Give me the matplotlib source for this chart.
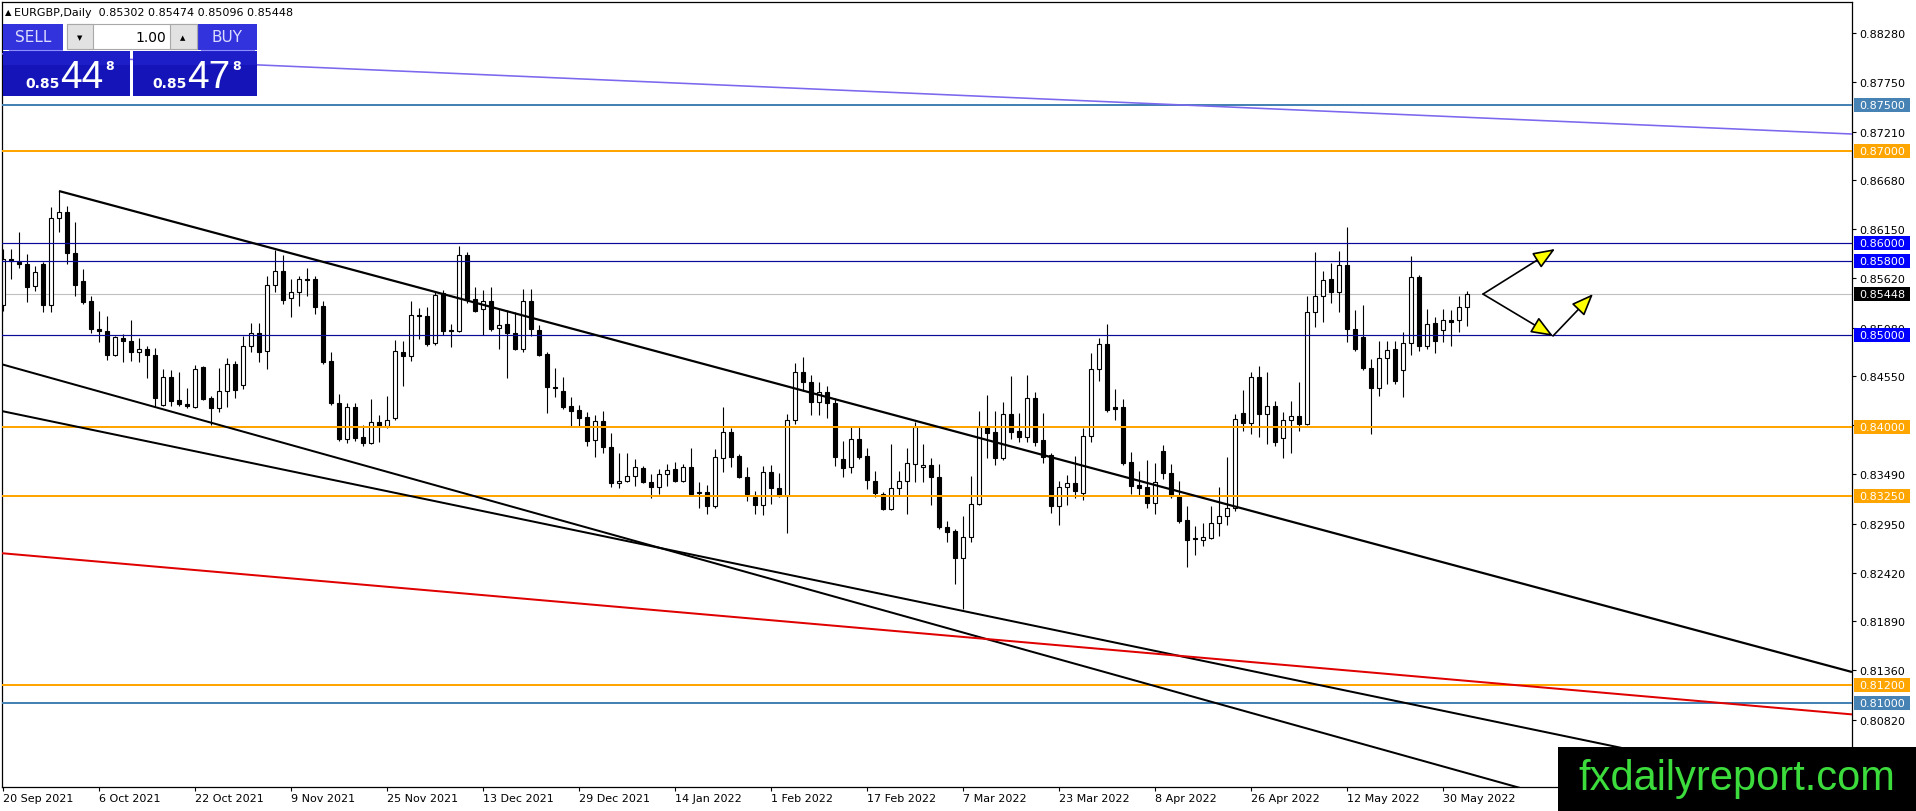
import matplotlib
matplotlib.use("Agg")
import matplotlib.pyplot as plt
from matplotlib.patches import Rectangle
import numpy as np
import pandas as pd

# EURGBP daily candles, 20 Sep 2021 .. 2 Jun 2022
opens = [0.85326, 0.85825, 0.85793, 0.85771, 0.85532, 0.85771, 0.85326, 0.86271, 0.86336, 0.85891,
         0.85586, 0.85369, 0.85065, 0.85043, 0.84783, 0.84967, 0.84935, 0.84815, 0.84848, 0.84783,
         0.84240, 0.84544, 0.84294, 0.84251, 0.84218, 0.84652, 0.84316, 0.84207, 0.84392, 0.84685,
         0.84457, 0.84881, 0.85022, 0.84826, 0.85543, 0.85695, 0.85402, 0.85467, 0.85608, 0.85608,
         0.85315, 0.84718, 0.84262, 0.83871, 0.84218, 0.83892, 0.83827, 0.84055, 0.84012, 0.84099,
         0.84815, 0.84772, 0.85217, 0.85206, 0.84913, 0.85456, 0.85054, 0.85043, 0.85869, 0.85391,
         0.85282, 0.85369, 0.85076, 0.85119, 0.85022, 0.84848, 0.85369, 0.85054, 0.84794, 0.84435,
         0.84392, 0.84229, 0.84185, 0.84109, 0.83860, 0.84066, 0.83784, 0.83393, 0.83414, 0.83469,
         0.83556, 0.83404, 0.83349, 0.83490, 0.83545, 0.83414, 0.83566, 0.83284, 0.83295, 0.83143,
         0.83664, 0.83947, 0.83686, 0.83458, 0.83241, 0.83154, 0.83512, 0.83338, 0.83252, 0.84077,
         0.84598, 0.84490, 0.84272, 0.84381, 0.84262, 0.83653, 0.83566, 0.83871, 0.83686, 0.83414,
         0.83273, 0.83110, 0.83338, 0.83414, 0.83599, 0.83566, 0.83588, 0.83458, 0.82915, 0.82871,
         0.82578, 0.82806, 0.83165, 0.84001, 0.83947, 0.83664, 0.84142, 0.83957, 0.83892, 0.84316,
         0.83860, 0.83697, 0.83143, 0.83349, 0.83393, 0.83284, 0.83903, 0.84631, 0.84902, 0.84218,
         0.84218, 0.83621, 0.83371, 0.83349, 0.83176, 0.83740, 0.83501, 0.83252, 0.82991, 0.82795,
         0.82774, 0.82795, 0.82958, 0.83034, 0.83121, 0.84153, 0.84044, 0.84544, 0.84142, 0.84229,
         0.83881, 0.84077, 0.84120, 0.84033, 0.85250, 0.85424, 0.85608, 0.85467, 0.85760, 0.85065,
         0.84978, 0.84642, 0.84424, 0.84750, 0.84848, 0.84620, 0.84913, 0.85630, 0.84881, 0.85130,
         0.85054, 0.85163, 0.85163, 0.85302]
highs = [0.85934, 0.85934, 0.86119, 0.85880, 0.85749, 0.85793, 0.86390, 0.86564, 0.86401, 0.86227,
         0.85717, 0.85424, 0.85261, 0.85206, 0.84989, 0.85011, 0.85163, 0.84967, 0.84881, 0.84859,
         0.84631, 0.84620, 0.84598, 0.84424, 0.84674, 0.84663, 0.84338, 0.84642, 0.84750, 0.84718,
         0.84989, 0.85130, 0.85130, 0.85641, 0.85923, 0.85869, 0.85608, 0.85641, 0.85728, 0.85641,
         0.85369, 0.84815, 0.84359, 0.84262, 0.84262, 0.84023, 0.84305, 0.84131, 0.84338, 0.84946,
         0.84935, 0.85369, 0.85293, 0.85304, 0.85478, 0.85489, 0.85119, 0.85967, 0.85901, 0.85521,
         0.85489, 0.85521, 0.85282, 0.85272, 0.85250, 0.85500, 0.85500, 0.85109, 0.84815, 0.84642,
         0.84544, 0.84327, 0.84240, 0.84164, 0.84131, 0.84175, 0.83936, 0.83719, 0.83719, 0.83653,
         0.83577, 0.83490, 0.83545, 0.83599, 0.83621, 0.83599, 0.83773, 0.83404, 0.83371, 0.83762,
         0.84218, 0.83990, 0.83708, 0.83566, 0.83306, 0.83577, 0.83588, 0.83501, 0.84142, 0.84696,
         0.84761, 0.84566, 0.84490, 0.84446, 0.84316, 0.83849, 0.84001, 0.84012, 0.83773, 0.83523,
         0.83295, 0.83816, 0.83523, 0.83773, 0.84055, 0.83816, 0.83664, 0.83599, 0.82980, 0.82893,
         0.83034, 0.83469, 0.84175, 0.84348, 0.84175, 0.84272, 0.84555, 0.84153, 0.84566, 0.84381,
         0.84153, 0.83719, 0.83414, 0.83480, 0.83686, 0.83990, 0.84805, 0.84967, 0.85119, 0.84414,
         0.84305, 0.83729, 0.83523, 0.83642, 0.83610, 0.83805, 0.83599, 0.83414, 0.83143, 0.82926,
         0.82958, 0.83143, 0.83349, 0.83675, 0.84142, 0.84403, 0.84598, 0.84663, 0.84598, 0.84283,
         0.84164, 0.84283, 0.84490, 0.85424, 0.85901, 0.85695, 0.85782, 0.85912, 0.86173, 0.85272,
         0.85326, 0.84739, 0.84935, 0.84935, 0.84935, 0.85033, 0.85858, 0.85652, 0.85282, 0.85195,
         0.85282, 0.85272, 0.85424, 0.85474]
lows = [0.85261, 0.85608, 0.85728, 0.85358, 0.85478, 0.85250, 0.85250, 0.86119, 0.85771, 0.85424,
        0.85337, 0.85022, 0.84924, 0.84728, 0.84772, 0.84707, 0.84718, 0.84707, 0.84533, 0.84218,
        0.84229, 0.84229, 0.84229, 0.84207, 0.84207, 0.84294, 0.84023, 0.84164, 0.84218, 0.84316,
        0.84414, 0.84815, 0.84707, 0.84631, 0.85467, 0.85337, 0.85195, 0.85315, 0.85424, 0.85228,
        0.84685, 0.84240, 0.83849, 0.83827, 0.83849, 0.83795, 0.83816, 0.83838, 0.83990, 0.84077,
        0.84446, 0.84718, 0.84957, 0.84881, 0.84891, 0.85000, 0.84870, 0.85033, 0.85348, 0.85250,
        0.85000, 0.85043, 0.84848, 0.84533, 0.84837, 0.84815, 0.84989, 0.84772, 0.84153, 0.84327,
        0.84196, 0.84012, 0.84012, 0.83795, 0.83675, 0.83719, 0.83349, 0.83338, 0.83404, 0.83360,
        0.83393, 0.83230, 0.83273, 0.83360, 0.83404, 0.83404, 0.83262, 0.83121, 0.83056, 0.83121,
        0.83512, 0.83566, 0.83447, 0.83197, 0.83056, 0.83045, 0.83165, 0.83241, 0.82850, 0.84033,
        0.84392, 0.84131, 0.84131, 0.84099, 0.83577, 0.83458, 0.83501, 0.83653, 0.83328, 0.83241,
        0.83099, 0.83099, 0.83262, 0.83056, 0.83404, 0.83404, 0.83154, 0.82893, 0.82752, 0.82296,
        0.82024, 0.82752, 0.83154, 0.83664, 0.83588, 0.83642, 0.83871, 0.83838, 0.83838, 0.83795,
        0.83610, 0.83067, 0.82937, 0.83154, 0.83230, 0.83208, 0.83838, 0.84500, 0.84164, 0.84077,
        0.83588, 0.83273, 0.83252, 0.83121, 0.83056, 0.83436, 0.83230, 0.82958, 0.82480, 0.82611,
        0.82709, 0.82785, 0.82817, 0.82937, 0.83089, 0.83957, 0.83925, 0.83892, 0.83816, 0.83795,
        0.83664, 0.83719, 0.83957, 0.84023, 0.85087, 0.85141, 0.85348, 0.85250, 0.84924, 0.84826,
        0.84620, 0.83925, 0.84338, 0.84468, 0.84468, 0.84327, 0.84783, 0.84826, 0.84848, 0.84805,
        0.84924, 0.84881, 0.85033, 0.85096]
closes = [0.85825, 0.85804, 0.85771, 0.85521, 0.85684, 0.85326, 0.86271, 0.86336, 0.85891, 0.85543,
          0.85358, 0.85065, 0.85043, 0.84783, 0.84978, 0.84935, 0.84815, 0.84848, 0.84783, 0.84316,
          0.84544, 0.84283, 0.84251, 0.84229, 0.84631, 0.84305, 0.84207, 0.84392, 0.84685, 0.84403,
          0.84881, 0.85022, 0.84815, 0.85543, 0.85695, 0.85380, 0.85467, 0.85608, 0.85597, 0.85304,
          0.84707, 0.84262, 0.83871, 0.84218, 0.83881, 0.83827, 0.84055, 0.84012, 0.84077, 0.84826,
          0.84772, 0.85217, 0.85206, 0.84902, 0.85434, 0.85043, 0.85043, 0.85869, 0.85391, 0.85261,
          0.85369, 0.85065, 0.85109, 0.85022, 0.84848, 0.85369, 0.85065, 0.84783, 0.84435, 0.84424,
          0.84218, 0.84175, 0.84099, 0.83849, 0.84066, 0.83784, 0.83393, 0.83414, 0.83469, 0.83566,
          0.83404, 0.83349, 0.83490, 0.83534, 0.83414, 0.83566, 0.83273, 0.83295, 0.83143, 0.83675,
          0.83947, 0.83675, 0.83458, 0.83273, 0.83154, 0.83512, 0.83338, 0.83252, 0.84077, 0.84598,
          0.84490, 0.84272, 0.84381, 0.84262, 0.83675, 0.83556, 0.83871, 0.83675, 0.83425, 0.83284,
          0.83110, 0.83338, 0.83414, 0.83610, 0.84001, 0.83588, 0.83458, 0.82915, 0.82861, 0.82578,
          0.82806, 0.83165, 0.84001, 0.83936, 0.83664, 0.84142, 0.83947, 0.83892, 0.84316, 0.83838,
          0.83675, 0.83143, 0.83349, 0.83393, 0.83306, 0.83903, 0.84631, 0.84902, 0.84185, 0.84196,
          0.83610, 0.83360, 0.83338, 0.83176, 0.83404, 0.83501, 0.83252, 0.82980, 0.82774, 0.82785,
          0.82806, 0.82958, 0.83034, 0.83121, 0.84088, 0.84044, 0.84544, 0.84142, 0.84229, 0.83838,
          0.84077, 0.84120, 0.84033, 0.85250, 0.85424, 0.85597, 0.85467, 0.85760, 0.85065, 0.84848,
          0.84642, 0.84424, 0.84750, 0.84837, 0.84500, 0.84913, 0.85630, 0.84881, 0.85119, 0.84935,
          0.85163, 0.85141, 0.85304, 0.85448]

dates = pd.bdate_range("2021-09-20", periods=len(opens))

# horizontal levels
level_prices = [0.87500, 0.87000, 0.86000, 0.85800, 0.85000, 0.84000, 0.83250, 0.81200, 0.81000]
level_colors = ["#4682b4", "#ffa500", "#0a0a9a", "#0a0a9a", "#0a0a9a", "#ffa500", "#ffa500", "#ffa500", "#4682b4"]
level_label_bg = ["#4682b4", "#ffa500", "#0000ff", "#0000ff", "#0000ff", "#ffa500", "#ffa500", "#ffa500", "#4682b4"]
level_widths = [2, 2, 1.2, 1.2, 1.2, 2, 2, 2, 2]
last_price = 0.85448

# trendlines: two anchor points (bar index, price) each, extended as rays
trend_anchors = [
    [(7, 0.86564), (231.125, 0.81341)],   # channel top
    [(0, 0.84679), (183, 0.80243)],       # steep lower line
    [(0, 0.84172), (183, 0.80866)],       # flatter lower line
    [(0, 0.82630), (183, 0.81245)],       # red line
    [(32, 0.87933), (231.125, 0.87183)],  # long purple line
]
trend_colors = ["black", "black", "black", "#e00000", "#7b68ee"]
trend_widths = [2.2, 2, 2, 2, 1.6]
trend_from_anchor = [True, False, False, False, False]

# projection arrows
arrow_starts = [(185, 0.85445), (185, 0.85445), (193.75, 0.84990)]
arrow_ends = [(194, 0.85935), (193.75, 0.84990), (198.75, 0.85445)]

yticks = [0.88280, 0.87750, 0.87210, 0.86680, 0.86150, 0.85620, 0.85080, 0.84550,
          0.84020, 0.83490, 0.82950, 0.82420, 0.81890, 0.81360, 0.80820]

W, H = 1916, 812
fig = plt.figure(figsize=(W / 100, H / 100), dpi=100)
ax = fig.add_axes([2 / W, 24 / H, 1850 / W, 785 / H])
XMIN, XMAX = -0.125, 231.125
YMIN, YMAX = 0.800924, 0.886166
ax.set_xlim(XMIN, XMAX)
ax.set_ylim(YMIN, YMAX)

o, h, l, c = map(np.array, (opens, highs, lows, closes))
x = np.arange(len(o))
up = c >= o
ax.vlines(x, l, h, color="black", lw=0.8, zorder=2)
body_lo = np.minimum(o, c)
body_h = np.maximum(np.abs(c - o), 0.00002)
ax.bar(x, body_h, bottom=body_lo, width=0.5, color=np.where(up, "white", "black"),
       edgecolor="black", linewidth=0.8, zorder=2.1)

# levels
for p, col, lw in zip(level_prices, level_colors, level_widths):
    ax.axhline(p, color=col, lw=lw * 0.72, zorder=3)
ax.axhline(last_price, color="#c0c0c0", lw=0.8, zorder=1.5)

# trendlines
for anchors, col, lw, from_anchor in zip(trend_anchors, trend_colors, trend_widths, trend_from_anchor):
    (x0, y0), (x1, y1) = anchors
    slope = (y1 - y0) / (x1 - x0)
    xa = x0 if from_anchor else XMIN
    xs = np.array([xa, XMAX])
    ax.plot(xs, y0 + slope * (xs - x0), color=col, lw=lw * 0.72, zorder=3.5,
            solid_capstyle="butt")

for (sx, sy), (ex, ey) in zip(arrow_starts, arrow_ends):
    ax.annotate("", xy=(ex, ey), xytext=(sx, sy),
                arrowprops=dict(arrowstyle="-|>,head_length=0.75,head_width=0.3",
                                fc="yellow", ec="black", lw=1.2, mutation_scale=18,
                                shrinkA=0, shrinkB=0), zorder=4)

# axes styling
for sp in ax.spines.values():
    sp.set_color("black")
    sp.set_linewidth(0.9)
ax.yaxis.tick_right()
ax.set_yticks(yticks)
ax.set_yticklabels([f"{v:.5f}" for v in yticks])
ax.tick_params(axis="y", length=3, width=0.8, pad=2, labelsize=8, colors="black")

tick_idx = list(range(0, len(dates), 12))
ax.set_xticks(tick_idx)
ax.set_xticklabels([f"{dates[i].day} {dates[i]:%b %Y}" for i in tick_idx])
ax.tick_params(axis="x", length=3, width=0.8, pad=1, labelsize=8)
for lbl in ax.get_xticklabels():
    lbl.set_horizontalalignment("left")

# price labels on the right axis
ytr = ax.get_yaxis_transform()
box_h = 14 / 9209
x_box = (1854 - 2) / 1850
w_box = 56 / 1850
for p, bg in zip(level_prices + [last_price], level_label_bg + ["black"]):
    ax.add_patch(Rectangle((x_box, p - box_h / 2), w_box, box_h, transform=ytr,
                           facecolor=bg, edgecolor="none", clip_on=False, zorder=6))
    ax.text(x_box + w_box / 2, p, f"{p:.5f}", transform=ytr, color="white", fontsize=8,
            ha="center", va="center", clip_on=False, zorder=7)

# overlay for terminal widgets
ov = fig.add_axes([0, 0, 1, 1])
ov.set_xlim(0, W)
ov.set_ylim(H, 0)
ov.axis("off")
ov.set_zorder(10)

ov.text(5, 13, "\u25b2", fontsize=6, va="center", ha="left")
ov.text(14, 13, "EURGBP,Daily  0.85302 0.85474 0.85096 0.85448", fontsize=8, va="center", ha="left")

blue_head = "#3333dd"
blue_box = "#1414b8"
ov.add_patch(Rectangle((3, 25), 60, 26, facecolor=blue_head, edgecolor="none"))
ov.add_patch(Rectangle((198, 25), 59, 26, facecolor=blue_head, edgecolor="none"))
ov.plot([9, 62], [51, 51], color="#8c8cff", lw=0.8)
ov.plot([201, 254], [51, 51], color="#8c8cff", lw=0.8)
ov.text(33, 38, "SELL", color="#dcdcff", fontsize=11, ha="center", va="center")
ov.text(227, 38, "BUY", color="#dcdcff", fontsize=11, ha="center", va="center")
ov.add_patch(Rectangle((67, 25), 130, 25, facecolor="white", edgecolor="#a8a8a8", lw=0.8))
ov.add_patch(Rectangle((67, 25), 26, 25, facecolor="#e2e2e2", edgecolor="#a8a8a8", lw=0.8))
ov.add_patch(Rectangle((170, 25), 27, 25, facecolor="#e2e2e2", edgecolor="#a8a8a8", lw=0.8))
ov.text(80, 38, "\u25bc", fontsize=5, ha="center", va="center")
ov.text(183, 38, "\u25b2", fontsize=5, ha="center", va="center")
ov.text(166, 38, "1.00", fontsize=10, ha="right", va="center")

for bx, bw, big, dx in [(3, 127, "44", 0), (133, 124, "47", 127)]:
    ov.add_patch(Rectangle((bx, 52), bw, 45, facecolor=blue_box, edgecolor="none"))
    ov.add_patch(Rectangle((bx, 52), bw, 14, facecolor="#1e1ec8", edgecolor="none"))
    ov.text(25 + dx, 88, "0.85", color="white", fontsize=10, fontweight="bold", ha="left",
            va="baseline")
    ov.text(60 + dx, 88, big, color="white", fontsize=28, family="Liberation Sans",
            ha="left", va="baseline")
    ov.text(105 + dx, 70, "8", color="white", fontsize=9, fontweight="bold", ha="left",
            va="baseline")

# watermark
ov.add_patch(Rectangle((1558, 748), 358, 64, facecolor="black", edgecolor="none"))
ov.text(1737, 779, "fxdailyreport.com", color="#3cdc3c", fontsize=30,
        family="Liberation Sans", ha="center", va="center")

fig.savefig("out.png", dpi=100)
